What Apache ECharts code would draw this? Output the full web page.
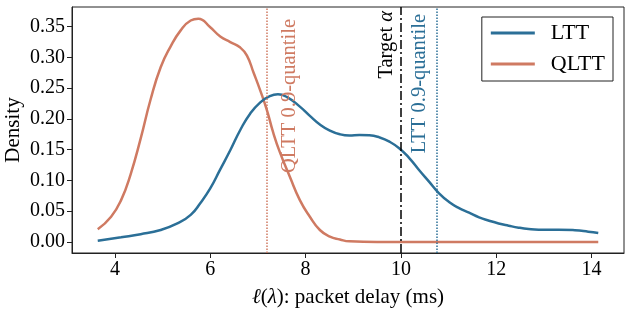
<!DOCTYPE html>
<html>
<head>
<meta charset="utf-8">
<script src="https://cdn.jsdelivr.net/npm/echarts@6/dist/echarts.min.js"></script>
<style>
  html, body { margin: 0; padding: 0; background: #fff; }
  #chart { width: 631px; height: 310px; }
</style>
</head>
<body>
<div id="chart"></div>
<script>
// ============================
// Datos
// ============================
var lttX = [3.64, 4.13, 4.54, 4.96, 5.31, 5.59, 5.79, 6.0, 6.21, 6.42, 6.63, 6.84, 7.05, 7.25, 7.42, 7.62, 7.88, 8.09, 8.30, 8.51, 8.72, 8.92, 9.13, 9.34, 9.55, 9.76, 9.97, 10.18, 10.38, 10.59, 10.80, 11.01, 11.22, 11.43, 11.64, 11.85, 12.05, 12.26, 12.47, 12.68, 12.89, 13.31, 13.65, 13.93, 14.14];
var lttY = [0.002, 0.0076, 0.0125, 0.0194, 0.030, 0.044, 0.063, 0.087, 0.118, 0.149, 0.182, 0.209, 0.227, 0.237, 0.240, 0.235, 0.220, 0.205, 0.191, 0.181, 0.175, 0.173, 0.174, 0.1735, 0.170, 0.163, 0.152, 0.136, 0.117, 0.098, 0.079, 0.065, 0.055, 0.0475, 0.040, 0.0345, 0.030, 0.0264, 0.0232, 0.021, 0.020, 0.020, 0.019, 0.0167, 0.0146];

var qlttX = [3.64, 3.92, 4.13, 4.33, 4.54, 4.75, 4.96, 5.17, 5.38, 5.59, 5.75, 6.0, 6.21, 6.42, 6.63, 6.77, 6.91, 7.05, 7.19, 7.32, 7.46, 7.67, 7.88, 8.09, 8.30, 8.51, 8.72, 8.92, 9.5, 10.5, 11.5, 12.5, 13.5, 14.14];
var qlttY = [0.0206, 0.041, 0.068, 0.110, 0.168, 0.232, 0.284, 0.318, 0.344, 0.360, 0.363, 0.349, 0.334, 0.325, 0.316, 0.303, 0.275, 0.246, 0.214, 0.178, 0.146, 0.106, 0.068, 0.041, 0.0194, 0.0086, 0.0040, 0.001, 0.0, 0.0, 0.0, 0.0, 0.0, 0.0];

var xTicks = [4, 6, 8, 10, 12, 14];
var yTicks = [0, 0.05, 0.10, 0.15, 0.20, 0.25, 0.30, 0.35];

var qlttQuantil = 7.19;
var targetAlpha = 10.0;
var lttQuantil = 10.76;

var azul = "#2b6f97";
var naranja = "#cf7a62";
var fuente = "Liberation Serif";

function pares(xs, ys) {
    return xs.map((x, i) => [x, ys[i]]);
}

function lineaVertical(x, color, tipo, texto, pos, dist) {
    return {
        silent: true,
        symbol: "none",
        lineStyle: { color: color, type: tipo, width: 1.5 },
        label: {
            show: true,
            formatter: texto,
            position: pos,
            distance: dist,
            color: color,
            fontFamily: fuente,
            fontSize: 20.5,
            rich: { i: { fontStyle: "italic", fontFamily: fuente, fontSize: 20.5, color: color } }
        },
        data: [{ xAxis: x }]
    };
}

var chart = echarts.init(document.getElementById("chart"));
chart.setOption({
    animation: false,
    textStyle: { fontFamily: fuente },
    grid: {
        left: 72, right: 7, top: 7, bottom: 57,
        outerBoundsMode: "none",
        containLabel: false,
        show: true, borderColor: "#222", borderWidth: 1
    },
    legend: {
        orient: "vertical",
        right: 18, top: 17,
        padding: [5, 8, 6, 9],
        itemGap: 9,
        itemWidth: 44, itemHeight: 3,
        borderColor: "#222", borderWidth: 1, borderRadius: 0,
        textStyle: { fontFamily: fuente, fontSize: 22, color: "#000", padding: [0, 0, 0, 11] },
        data: [
            { name: "LTT", icon: "rect" },
            { name: "QLTT", icon: "rect" }
        ]
    },
    xAxis: {
        type: "value",
        min: 3.1, max: 14.68,
        name: "{i|ℓ}({i|λ}): packet delay (ms)",
        nameLocation: "middle",
        nameGap: 34,
        nameMoveOverlap: false,
        nameTextStyle: {
            fontFamily: fuente, fontSize: 21, color: "#000",
            rich: { i: { fontStyle: "italic", fontFamily: fuente, fontSize: 21, color: "#000" } }
        },
        axisLine: { show: true, onZero: false, lineStyle: { color: "#222" } },
        axisTick: { show: true, customValues: xTicks, length: 5, lineStyle: { color: "#222" } },
        axisLabel: { customValues: xTicks, fontFamily: fuente, fontSize: 20, color: "#000", margin: 7 },
        splitLine: { show: false }
    },
    yAxis: {
        type: "value",
        min: -0.018, max: 0.382,
        name: "Density",
        nameLocation: "middle",
        nameGap: 48,
        nameMoveOverlap: false,
        nameTextStyle: { fontFamily: fuente, fontSize: 21, color: "#000" },
        axisLine: { show: true, onZero: false, lineStyle: { color: "#222" } },
        axisTick: { show: true, customValues: yTicks, length: 5, lineStyle: { color: "#222" } },
        axisLabel: {
            customValues: yTicks, fontFamily: fuente, fontSize: 20, color: "#000", margin: 7,
            formatter: v => v.toFixed(2)
        },
        splitLine: { show: false }
    },
    series: [
        {
            name: "LTT",
            type: "line",
            smooth: true,
            showSymbol: false,
            color: azul,
            lineStyle: { width: 2.5, color: azul },
            data: pares(lttX, lttY),
            markLine: lineaVertical(lttQuantil, azul, "dotted", "LTT 0.9-quantile", "insideEndTop", 7),
            z: 3
        },
        {
            name: "QLTT",
            type: "line",
            smooth: true,
            showSymbol: false,
            color: naranja,
            lineStyle: { width: 2.5, color: naranja },
            data: pares(qlttX, qlttY),
            markLine: lineaVertical(qlttQuantil, naranja, "dotted", "QLTT 0.9-quantile", "insideEndBottom", 12),
            z: 2
        },
        {
            name: "target",
            type: "line",
            data: [],
            markLine: lineaVertical(targetAlpha, "#000", [9, 3, 2, 3], "Target {i|α}", "insideEndTop", 4)
        }
    ]
});
</script>
</body>
</html>
